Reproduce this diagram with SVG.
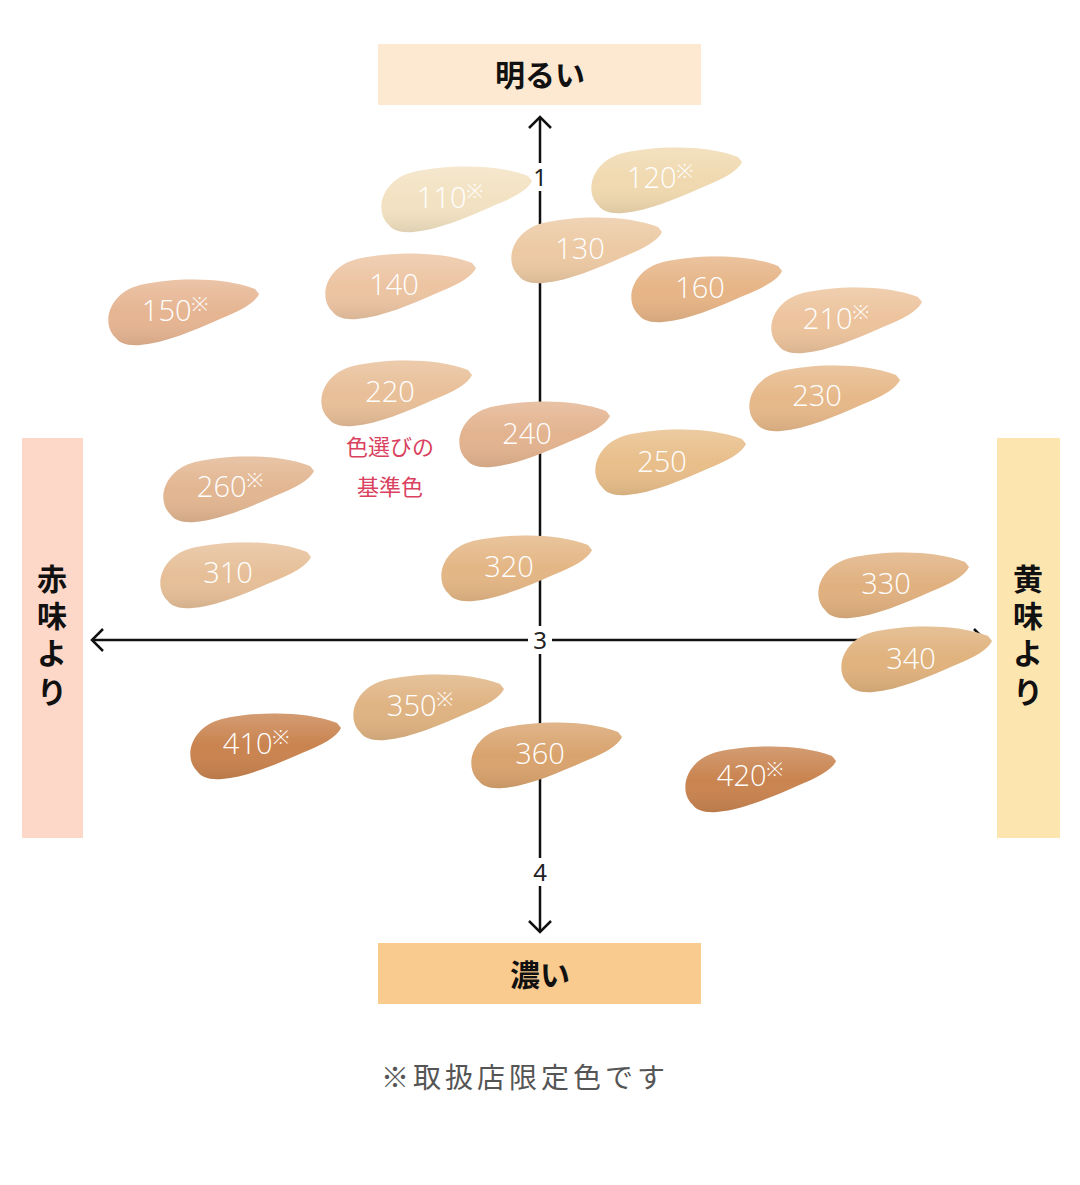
<svg xmlns="http://www.w3.org/2000/svg" width="1080" height="1185" viewBox="0 0 1080 1185">
<style>
.ax{stroke:#111;stroke-width:2.5;fill:none}
.lb{font-family:"Noto Sans CJK JP","Noto Sans",sans-serif;font-weight:bold;font-size:30px;fill:#111}
.sw{font-family:"Open Sans","Noto Sans",sans-serif;font-weight:300;font-size:29px;fill:#fff;text-anchor:middle}
.sw tspan{font-size:20px}
.num{font-family:"Noto Sans",sans-serif;font-size:24px;fill:#222;text-anchor:middle}
</style>
<defs>
<path id="s" d="M10 62 C-4 48 4 18 35 10 C70 2 120 2 150 14 L154 19 C150 28 135 36 115 44 C90 55 60 68 35 70 C22 71 14 68 10 62 Z"/>
<linearGradient id="sh" x1="0" y1="0" x2="0" y2="1"><stop offset="0" stop-color="#fff" stop-opacity="0.2"/><stop offset="0.5" stop-color="#fff" stop-opacity="0"/><stop offset="1" stop-color="#000" stop-opacity="0.08"/></linearGradient>
</defs>
<rect width="1080" height="1185" fill="#fff"/>
<g id="labels">
<rect x="378" y="44" width="323" height="61" fill="#fde9d2"/>
<text class="lb" x="540" y="86" text-anchor="middle">明るい</text>
<rect x="378" y="943" width="323" height="61" fill="#f9cb8f"/>
<text class="lb" x="540" y="986" text-anchor="middle">濃い</text>
<rect x="22" y="438" width="61" height="400" fill="#fdd7c8"/>
<text class="lb" x="52" y="590" text-anchor="middle">赤</text><text class="lb" x="52" y="627" text-anchor="middle">味</text><text class="lb" x="52" y="664" text-anchor="middle">よ</text><text class="lb" x="52" y="703" text-anchor="middle">り</text>
<rect x="997" y="438" width="63" height="400" fill="#fde5b0"/>
<text class="lb" x="1028" y="590" text-anchor="middle">黄</text><text class="lb" x="1028" y="627" text-anchor="middle">味</text><text class="lb" x="1028" y="664" text-anchor="middle">よ</text><text class="lb" x="1028" y="703" text-anchor="middle">り</text>
</g>
<g id="connectors">
<line class="ax" x1="540" y1="117" x2="540" y2="932"/>
<polyline class="ax" points="529,128 540,117 551,128"/>
<polyline class="ax" points="529,921 540,932 551,921"/>
<line class="ax" x1="92" y1="640" x2="985" y2="640"/>
<polyline class="ax" points="103,629 92,640 103,651"/>
<polyline class="ax" points="974,629 985,640 974,651"/>
<rect x="528" y="163" width="24" height="28" fill="#fff"/><text class="num" x="540" y="186">1</text>
<rect x="528" y="626" width="24" height="28" fill="#fff"/><text class="num" x="540" y="649">3</text>
<rect x="528" y="858" width="24" height="28" fill="#fff"/><text class="num" x="540" y="881">4</text>
</g>
<g id="swatches">
<g id="n110"><use href="#s" x="378" y="162" fill="#f3e2c2"/><use href="#s" x="378" y="162" fill="url(#sh)"/><text class="sw" x="450" y="208">110<tspan dy="-10">※</tspan></text></g>
<g id="n120"><use href="#s" x="588" y="143" fill="#f0d9b0"/><use href="#s" x="588" y="143" fill="url(#sh)"/><text class="sw" x="660" y="188">120<tspan dy="-10">※</tspan></text></g>
<g id="n130"><use href="#s" x="508" y="213" fill="#ecc9a3"/><use href="#s" x="508" y="213" fill="url(#sh)"/><text class="sw" x="580" y="259">130</text></g>
<g id="n140"><use href="#s" x="322" y="249" fill="#ecc4a2"/><use href="#s" x="322" y="249" fill="url(#sh)"/><text class="sw" x="394" y="295">140</text></g>
<g id="n150"><use href="#s" x="105" y="275" fill="#e6b592"/><use href="#s" x="105" y="275" fill="url(#sh)"/><text class="sw" x="175" y="321">150<tspan dy="-10">※</tspan></text></g>
<g id="n160"><use href="#s" x="628" y="252" fill="#e6b486"/><use href="#s" x="628" y="252" fill="url(#sh)"/><text class="sw" x="700" y="298">160</text></g>
<g id="n210"><use href="#s" x="768" y="283" fill="#ecc39c"/><use href="#s" x="768" y="283" fill="url(#sh)"/><text class="sw" x="836" y="329">210<tspan dy="-10">※</tspan></text></g>
<g id="n220"><use href="#s" x="318" y="356" fill="#e8bf98"/><use href="#s" x="318" y="356" fill="url(#sh)"/><text class="sw" x="390" y="402">220</text></g>
<g id="n230"><use href="#s" x="746" y="361" fill="#e6b889"/><use href="#s" x="746" y="361" fill="url(#sh)"/><text class="sw" x="817" y="406">230</text></g>
<g id="n240"><use href="#s" x="456" y="397" fill="#e3b38f"/><use href="#s" x="456" y="397" fill="url(#sh)"/><text class="sw" x="527" y="444">240</text></g>
<g id="n250"><use href="#s" x="592" y="425" fill="#e8be8a"/><use href="#s" x="592" y="425" fill="url(#sh)"/><text class="sw" x="662" y="472">250</text></g>
<g id="n260"><use href="#s" x="160" y="452" fill="#e2b691"/><use href="#s" x="160" y="452" fill="url(#sh)"/><text class="sw" x="230" y="497">260<tspan dy="-10">※</tspan></text></g>
<g id="n310"><use href="#s" x="157" y="538" fill="#e6bf98"/><use href="#s" x="157" y="538" fill="url(#sh)"/><text class="sw" x="228" y="583">310</text></g>
<g id="n320"><use href="#s" x="438" y="531" fill="#e4b685"/><use href="#s" x="438" y="531" fill="url(#sh)"/><text class="sw" x="509" y="577">320</text></g>
<g id="n330"><use href="#s" x="815" y="548" fill="#e0b07f"/><use href="#s" x="815" y="548" fill="url(#sh)"/><text class="sw" x="886" y="594">330</text></g>
<g id="n340"><use href="#s" x="838" y="622" fill="#e0b27d"/><use href="#s" x="838" y="622" fill="url(#sh)"/><text class="sw" x="911" y="669">340</text></g>
<g id="n350"><use href="#s" x="350" y="670" fill="#dfb382"/><use href="#s" x="350" y="670" fill="url(#sh)"/><text class="sw" x="420" y="716">350<tspan dy="-10">※</tspan></text></g>
<g id="n360"><use href="#s" x="468" y="718" fill="#d9a36e"/><use href="#s" x="468" y="718" fill="url(#sh)"/><text class="sw" x="540" y="764">360</text></g>
<g id="n410"><use href="#s" x="187" y="709" fill="#c9834f"/><use href="#s" x="187" y="709" fill="url(#sh)"/><text class="sw" x="256" y="754">410<tspan dy="-10">※</tspan></text></g>
<g id="n420"><use href="#s" x="682" y="742" fill="#c98450"/><use href="#s" x="682" y="742" fill="url(#sh)"/><text class="sw" x="750" y="786">420<tspan dy="-10">※</tspan></text></g>
</g>
<g id="notes" font-family="'Noto Sans CJK JP','Noto Sans',sans-serif" text-anchor="middle">
<text x="390" y="455" font-size="22" fill="#d9415e">色選びの</text>
<text x="390" y="495" font-size="22" fill="#d9415e">基準色</text>
<text x="525" y="1088" font-size="28" fill="#555" letter-spacing="4">※取扱店限定色です</text>
</g>
</svg>
